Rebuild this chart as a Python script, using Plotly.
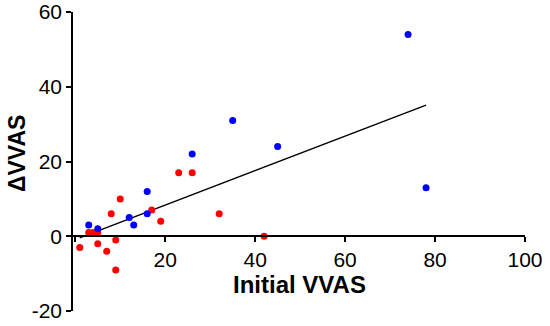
import numpy as np
import plotly.graph_objects as go

# Data
blue_x = [74, 45, 78, 35, 26, 16, 12, 16, 13, 3, 5]
blue_y = [54, 24, 13, 31, 22, 12, 5, 6, 3, 3, 2]
red_x = [42, 23, 26, 10, 8, 17, 19, 32, 3, 4, 5, 1, 5, 7, 9, 9]
red_y = [0, 17, 17, 10, 6, 7, 4, 6, 1, 1, 1, -3, -2, -4, -1, -9]

x_ticks = [0, 20, 40, 60, 80, 100]
x_ticklabels = ["", "20", "40", "60", "80", "100"]
y_ticks = [-20, 0, 20, 40, 60]
y_ticklabels = ["-20", "0", "20", "40", "60"]

all_x = np.array(blue_x + red_x, dtype=float)
all_y = np.array(blue_y + red_y, dtype=float)
slope, intercept = np.polyfit(all_x, all_y, 1)
fit_x = np.array([all_x.min(), all_x.max()])
fit_y = slope * fit_x + intercept

FONT = "Arial, Liberation Sans, sans-serif"

fig = go.Figure()
fig.add_trace(go.Scatter(x=fit_x, y=fit_y, mode="lines",
                         line=dict(color="black", width=1.4), showlegend=False))
fig.add_trace(go.Scatter(x=red_x, y=red_y, mode="markers",
                         marker=dict(color="#ff0000", size=7), showlegend=False))
fig.add_trace(go.Scatter(x=blue_x, y=blue_y, mode="markers",
                         marker=dict(color="#0000ff", size=7), showlegend=False))

fig.update_layout(
    width=550, height=326,
    margin=dict(l=73, r=25, t=12, b=15, autoexpand=False),
    paper_bgcolor="white", plot_bgcolor="white",
    font=dict(family=FONT, color="black"),
    xaxis=dict(range=[-0.5, 100], tickvals=x_ticks, ticktext=x_ticklabels,
               showgrid=False, zeroline=False, showline=True, linecolor="black",
               linewidth=1.5, ticks="outside", ticklen=5, tickwidth=1.5,
               tickcolor="black", anchor="free", position=0.25, automargin=False,
               tickfont=dict(size=21, family=FONT)),
    yaxis=dict(range=[-20, 60], tickvals=y_ticks, ticktext=y_ticklabels,
               showgrid=False, zeroline=False, automargin=False,
               showline=True, linecolor="black", linewidth=1.5, ticks="outside",
               ticklen=5, tickwidth=1.5, tickcolor="black",
               tickfont=dict(size=21, family=FONT)),
    annotations=[
        dict(text="<b>Initial VVAS</b>", xref="paper", yref="paper", x=0.5,
             y=0.087, xanchor="center", yanchor="middle", showarrow=False,
             font=dict(size=24, family=FONT)),
        dict(text="<b>ΔVVAS</b>", xref="paper", yref="paper", x=-0.124,
             y=0.528, xanchor="center", yanchor="middle", showarrow=False,
             textangle=-90, font=dict(size=23, family=FONT)),
    ],
)

fig.write_html("out.html", config={"displayModeBar": False},
               post_script="document.body.style.margin='0';document.body.style.overflow='hidden';")
